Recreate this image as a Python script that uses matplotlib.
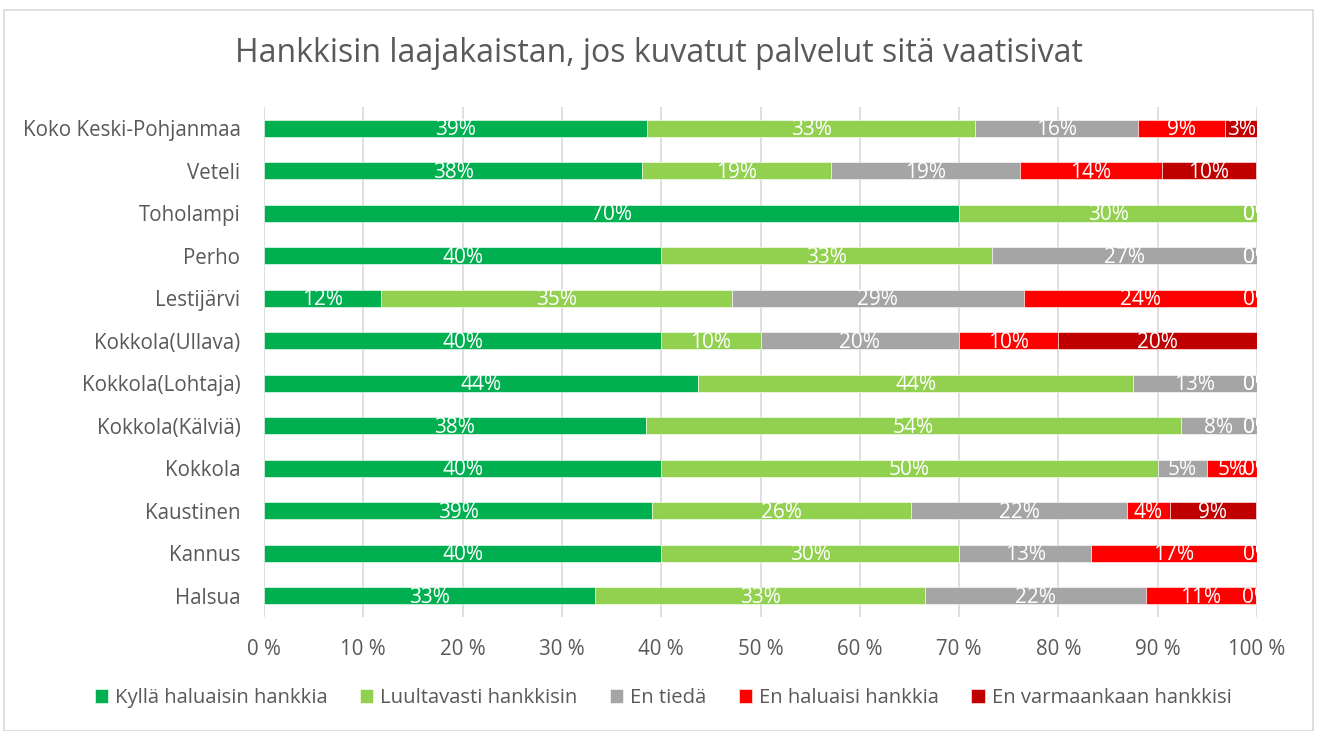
#!/usr/bin/env python3
"""Hankkisin laajakaistan - 100 % stacked bar chart, redrawn with matplotlib."""

import numpy as np
import matplotlib
matplotlib.use('Agg')
import matplotlib.pyplot as plt
from matplotlib.patches import Rectangle

#- data (shares per kunta, in percent), top row first

kunnat = ['Koko Keski-Pohjanmaa', 'Veteli', 'Toholampi', 'Perho', 'Lestijärvi',
          'Kokkola(Ullava)', 'Kokkola(Lohtaja)', 'Kokkola(Kälviä)', 'Kokkola',
          'Kaustinen', 'Kannus', 'Halsua']

kylla = [38.6, 38.1, 70.0, 40.0, 11.8, 40.0, 43.75, 38.46, 40.0, 39.1, 40.0, 33.3]
luultavasti = [33.0, 19.0, 30.0, 33.3, 35.3, 10.0, 43.75, 53.85, 50.0, 26.1, 30.0, 33.3]
en_tieda = [16.4, 19.0, 0.0, 26.7, 29.4, 20.0, 12.5, 7.69, 5.0, 21.7, 13.3, 22.2]
en_haluaisi = [8.8, 14.3, 0.0, 0.0, 23.5, 10.0, 0.0, 0.0, 5.0, 4.3, 16.7, 11.1]
en_varmaan = [3.2, 9.5, 0.0, 0.0, 0.0, 20.0, 0.0, 0.0, 0.0, 8.7, 0.0, 0.0]

sarjat = ['Kyllä haluaisin hankkia', 'Luultavasti hankkisin', 'En tiedä',
          'En haluaisi hankkia', 'En varmaankaan hankkisi']
varit = ['#00B050', '#92D050', '#A5A5A5', '#FF0000', '#C00000']

otsikko = 'Hankkisin laajakaistan, jos kuvatut palvelut sitä vaatisivat'

#- figure

plt.rcParams['font.family'] = ['Open Sans', 'DejaVu Sans']
teksti = '#595959'

fig = plt.figure(figsize=(13.17, 7.31), dpi=100)
fig.patches.append(Rectangle((4 / 1317, 0), 1309 / 1317, 1 - 10 / 731,
                             transform=fig.transFigure, fill=False,
                             edgecolor='#D9D9D9', linewidth=1.2))

ax = fig.add_axes([264 / 1317, 1 - 617 / 731, 993 / 1317, 510 / 731])

y = np.arange(len(kunnat))[::-1]
arvot = [kylla, luultavasti, en_tieda, en_haluaisi, en_varmaan]

#- stacked bars, each segment labelled in its centre (0 % labels get clipped
#  at the right edge of the plot area, like in the original)

vasen = np.zeros(len(kunnat))
for nimi, sarja, vari in zip(sarjat, arvot, varit):
    sarja = np.array(sarja)
    ax.barh(y, sarja, left=vasen, height=0.4, color=vari, label=nimi,
            edgecolor='white', linewidth=0.4, zorder=3)
    for yi, v, l in zip(y, sarja, vasen):
        ax.text(l + v / 2, yi - 0.03, '%d%%' % int(v + 0.5), color='white',
                ha='center', va='center', fontsize=15, zorder=4,
                clip_on=True)
    vasen = vasen + sarja

ax.set_xlim(0, 100)
ax.set_ylim(-0.5, len(kunnat) - 0.5)
ax.set_xticks(np.arange(0, 101, 10))
ax.set_xticklabels(['%d %%' % t for t in range(0, 101, 10)])
ax.set_yticks(y)
ax.set_yticklabels(kunnat)
ax.tick_params(axis='both', length=0, labelsize=14.8, labelcolor=teksti)
ax.tick_params(axis='x', pad=16)
ax.tick_params(axis='y', pad=17)
ax.grid(axis='x', color='#D9D9D9', linewidth=1.2, zorder=0)
for s in ax.spines.values():
    s.set_visible(False)

fig.suptitle(otsikko, y=1 - 54 / 731, va='center', fontsize=23, color=teksti)

fig.legend(loc='center', bbox_to_anchor=(663 / 1317, 1 - 698 / 731),
           ncol=5, frameon=False, fontsize=14.6, handlelength=0.65,
           handleheight=0.65, handletextpad=0.35, columnspacing=1.6,
           labelcolor=teksti)

fig.savefig('out.png', dpi=100)
